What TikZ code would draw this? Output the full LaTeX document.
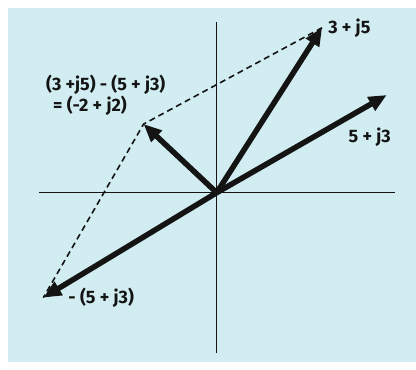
\documentclass[tikz,border=0pt]{standalone}
\usepackage{fontspec}
\setmainfont{Fira Sans}
\usetikzlibrary{arrows.meta,positioning}
\definecolor{paperblue}{RGB}{209,237,241}
\definecolor{ink}{RGB}{20,20,20}

\begin{document}
\begin{tikzpicture}[
    x=34pt, y=33pt, ink,
    axis/.style={line width=1.6pt},
    vec/.style={-{Triangle[length=18pt,width=15pt]}, line width=5.5pt},
    guide/.style={line width=1.6pt, dash pattern=on 6pt off 4pt},
    lbl/.style={font=\fontsize{18}{21}\selectfont\bfseries, inner sep=1pt}
]
\useasboundingbox (-216.7pt,-177.3pt) rectangle (199.3pt,192.7pt);
% Background
\fill[paperblue] (-208.7pt,-169.3pt) rectangle (199.3pt,184.7pt);
% Axes
\coordinate (O) at (0,0);
\coordinate (xl) at (-177.7pt,0);
\coordinate (xr) at (178.3pt,0);
\coordinate (yb) at (0,-160.3pt);
\coordinate (yt) at (0,170.7pt);
\draw[axis] (xl) -- (xr);
\draw[axis] (yb) -- (yt);
% Phasor tips
\coordinate (A) at (3.1,5);
\coordinate (B) at (5,2.96);
\coordinate (D) at (-2.15,2.08);
\coordinate (N) at (-5.1,-3.18);
% Parallelogram construction
\draw[guide] (A) -- (D) -- (N);
% Phasors
\draw[vec] (O) -- (A);
\draw[vec] (O) -- (B);
\draw[vec] (O) -- (D);
\draw[vec] (O) -- (N);
% Labels
\node[lbl, right=5pt of A] (lA) {3 + j5};
\node[lbl, below=32pt of B, xshift=-17pt] (lB) {5 + j3};
\node[lbl, anchor=west, align=left] (lD) at (-5.05,2.96) {(3 +j5) - (5 + j3)\\\hspace{7pt}= (-2 + j2)};
\node[lbl, right=24pt of N] (lN) {- (5 + j3)};
\end{tikzpicture}
\end{document}
